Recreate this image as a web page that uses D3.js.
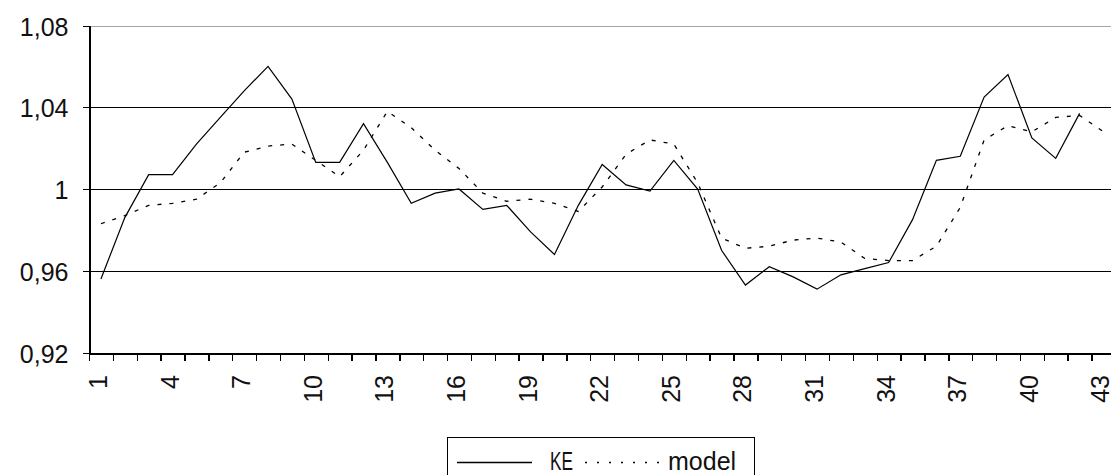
<!DOCTYPE html>
<html>
<head>
<meta charset="utf-8">
<script src="https://cdn.jsdelivr.net/npm/d3@7"></script>
<style>
  html, body { margin: 0; padding: 0; background: #fff; }
  svg { display: block; }
  text { font-family: "Liberation Sans", Arial, sans-serif; fill: #111; }
</style>
</head>
<body>
<svg id="chart" width="1111" height="475"></svg>
<script>
// Period numbers along the horizontal axis
const categories = [1, 2, 3, 4, 5, 6, 7, 8, 9, 10, 11, 12, 13, 14, 15, 16, 17, 18, 19, 20, 21,
  22, 23, 24, 25, 26, 27, 28, 29, 30, 31, 32, 33, 34, 35, 36, 37, 38, 39, 40, 41, 42, 43];

// Observed series (one fewer observation than the model)
const keValues = [0.956, 0.986, 1.007, 1.007, 1.022, 1.035, 1.048, 1.060, 1.044, 1.013,
  1.013, 1.032, 1.013, 0.993, 0.998, 1.000, 0.990, 0.992, 0.979, 0.968,
  0.992, 1.012, 1.002, 0.999, 1.014, 1.000, 0.970, 0.953, 0.962, 0.957,
  0.951, 0.958, 0.961, 0.964, 0.985, 1.014, 1.016, 1.045, 1.056, 1.025,
  1.015, 1.037];

// Model series
const modelValues = [0.983, 0.987, 0.992, 0.993, 0.995, 1.003, 1.018, 1.021, 1.022, 1.014,
  1.006, 1.019, 1.038, 1.030, 1.019, 1.010, 0.998, 0.994, 0.995, 0.993,
  0.989, 1.001, 1.017, 1.024, 1.022, 1.003, 0.976, 0.971, 0.972, 0.975,
  0.976, 0.974, 0.966, 0.965, 0.965, 0.972, 0.991, 1.024, 1.031, 1.028,
  1.035, 1.036, 1.028];

// Axis tick labels
const xTickLabels = [1, 4, 7, 10, 13, 16, 19, 22, 25, 28, 31, 34, 37, 40, 43];
const yTicks = [0.92, 0.96, 1.00, 1.04, 1.08];

const seriesNames = ["KE", "model"];

const svg = d3.select("#chart");

const plotLeft = 89, plotTop = 25.5, plotBottom = 352.5;
const step = 23.87;
const plotRight = plotLeft + categories.length * step;

const x = d3.scaleBand().domain(categories).range([plotLeft, plotRight]).paddingInner(0).paddingOuter(0);
const xEdge = d3.scaleLinear().domain([0, categories.length]).range([plotLeft, plotRight]);
const y = d3.scaleLinear().domain([0.92, 1.08]).range([plotBottom, plotTop]);

const locale = d3.formatLocale({ decimal: ",", thousands: " ", grouping: [3], currency: ["", ""] });
const fmt = locale.format("~g");

// Horizontal gridlines (the top one is the lighter plot border)
svg.append("g")
  .selectAll("line")
  .data(yTicks.filter(v => v > 0.92))
  .join("line")
  .attr("x1", plotLeft)
  .attr("x2", 1111)
  .attr("y1", d => Math.round(y(d)) + 0.5)
  .attr("y2", d => Math.round(y(d)) + 0.5)
  .attr("stroke", d => d === 1.08 ? "#a6a6a6" : "#000")
  .attr("stroke-width", 1.4)
  .attr("shape-rendering", "crispEdges");

// Category boundary ticks
const xTickAxis = d3.axisBottom(xEdge)
  .tickValues(d3.range(0, categories.length + 1))
  .tickFormat("")
  .tickSize(7)
  .tickSizeOuter(0);
svg.append("g")
  .attr("transform", `translate(0,${Math.round(plotBottom) + 0.5})`)
  .call(xTickAxis)
  .call(g => g.selectAll("line").attr("stroke", "#000").attr("stroke-width", 1.4).attr("shape-rendering", "crispEdges"))
  .call(g => g.select(".domain").attr("stroke", "#000").attr("stroke-width", 1.4).attr("shape-rendering", "crispEdges"));

// Rotated category labels
const xLabelAxis = d3.axisBottom(x)
  .tickValues(xTickLabels)
  .tickSize(0)
  .tickSizeOuter(0);
svg.append("g")
  .attr("transform", `translate(0,${plotBottom})`)
  .call(xLabelAxis)
  .call(g => g.select(".domain").remove())
  .call(g => g.selectAll("text")
    .attr("font-size", 25)
    .attr("font-family", "Liberation Sans, Arial, sans-serif")
    .attr("fill", "#111")
    .attr("transform", "rotate(-90)")
    .attr("text-anchor", "end")
    .attr("x", -22.5)
    .attr("y", 0)
    .attr("dy", "0.24em"));

// Vertical axis
const yAxis = d3.axisLeft(y)
  .tickValues(yTicks)
  .tickFormat(fmt)
  .tickSize(7)
  .tickSizeOuter(0)
  .tickPadding(14);
svg.append("g")
  .attr("transform", `translate(${plotLeft + 0.5},0)`)
  .call(yAxis)
  .call(g => g.select(".domain").attr("stroke", "#000").attr("stroke-width", 1.4).attr("shape-rendering", "crispEdges"))
  .call(g => g.selectAll(".tick line").attr("stroke", "#000").attr("stroke-width", 1.4)
    .attr("shape-rendering", "crispEdges"))
  .call(g => g.selectAll(".tick").attr("transform", d => `translate(0,${Math.round(y(d)) + 0.5})`))
  .call(g => g.selectAll("text")
    .attr("font-size", 25)
    .attr("font-family", "Liberation Sans, Arial, sans-serif")
    .attr("fill", "#111")
    .attr("dy", "0.36em"));

const cx = d => x(d) + x.bandwidth() / 2;

const line = d3.line()
  .x(d => cx(d.c))
  .y(d => y(d.v));

const keData = keValues.map((v, i) => ({ c: categories[i], v }));
const modelData = modelValues.map((v, i) => ({ c: categories[i], v }));

// Model: dotted line
svg.append("path")
  .datum(modelData)
  .attr("d", line)
  .attr("fill", "none")
  .attr("stroke", "#000")
  .attr("stroke-width", 1.3)
  .attr("stroke-dasharray", "4,8");

// KE: solid line
svg.append("path")
  .datum(keData)
  .attr("d", line)
  .attr("fill", "none")
  .attr("stroke", "#000")
  .attr("stroke-width", 1.2);

// Legend
const legend = svg.append("g");
legend.append("rect")
  .attr("x", 447.5).attr("y", 437.5)
  .attr("width", 307).attr("height", 60)
  .attr("fill", "#fff")
  .attr("stroke", "#000")
  .attr("stroke-width", 1.4)
  .attr("shape-rendering", "crispEdges");

const legendItems = [
  { name: seriesNames[0], x1: 457, x2: 532, tx: 550, width: 23, dash: null },
  { name: seriesNames[1], x1: 585, x2: 664, tx: 668, width: null, dash: "2,10" }
];
legendItems.forEach(it => {
  legend.append("line")
    .attr("x1", it.x1).attr("x2", it.x2)
    .attr("y1", 462.5).attr("y2", 462.5)
    .attr("stroke", "#000")
    .attr("stroke-width", 1.3)
    .attr("stroke-dasharray", it.dash);
  const t = legend.append("text")
    .attr("x", it.tx)
    .attr("y", 470)
    .attr("font-size", 25)
    .text(it.name);
  if (it.width) t.attr("textLength", it.width).attr("lengthAdjust", "spacingAndGlyphs");
});
</script>
</body>
</html>
